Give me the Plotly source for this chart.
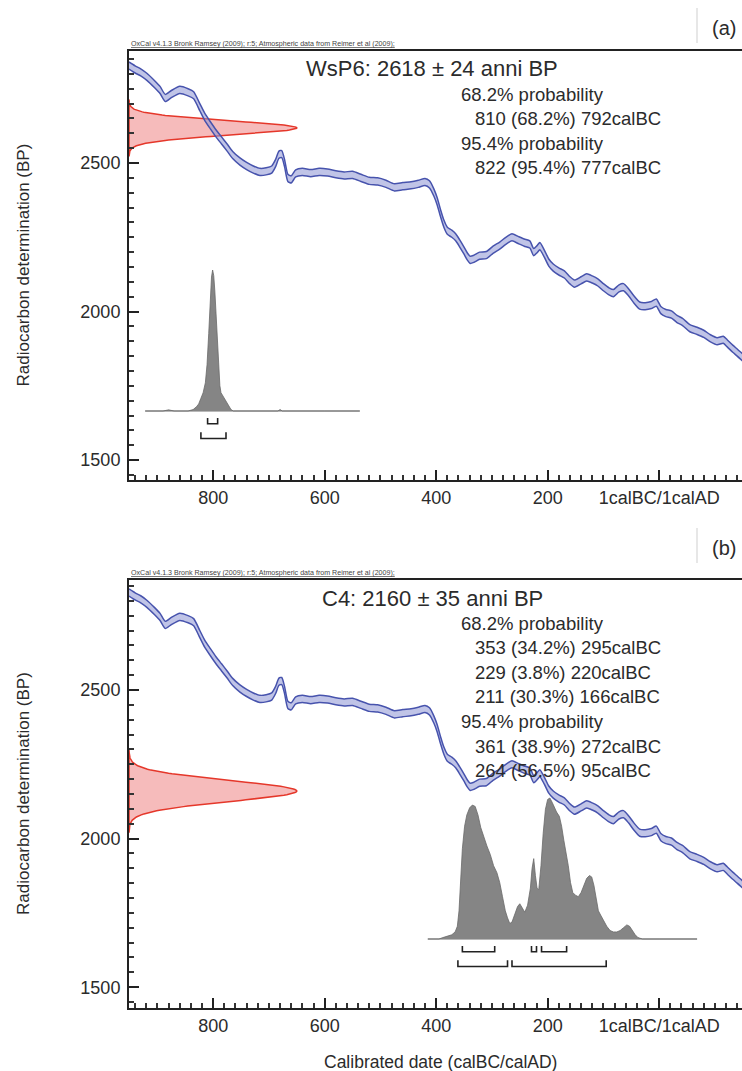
import numpy as np
import plotly.graph_objects as go

W, H = 742, 1071
FONT = "Liberation Sans, Arial, sans-serif"
TXT = "#2b2b2b"

# ---------------- data ----------------
# calibration curve (calendar year BC positive, AD negative) and radiocarbon age BP
cal_year = [951, 940, 930, 919, 905, 895, 886, 875, 860, 845,
            835, 824, 815, 805, 795, 785, 775, 765, 752, 740,
            728, 716, 705, 695, 688, 682, 677, 672, 666, 660,
            652, 640, 625, 610, 595, 580, 565, 550, 535, 520,
            505, 490, 475, 460, 445, 432, 420, 412, 404, 398,
            392, 386, 380, 372, 365, 358, 350, 344, 339, 332,
            322, 310, 298, 286, 275, 264, 252, 242, 232, 225,
            219, 214, 206, 198, 190, 180, 170, 160, 152, 140,
            130, 120, 110, 100, 90, 82, 72, 64, 55, 45,
            35, 25, 14, 5, -3, -12, -22, -32, -42, -55,
            -68, -80, -92, -104, -115, -122, -132, -140, -150]
cal_bp = [2828, 2815, 2805, 2790, 2765, 2745, 2719, 2732, 2746, 2738,
          2728, 2688, 2655, 2627, 2600, 2576, 2552, 2527, 2505, 2490,
          2478, 2470, 2472, 2478, 2500, 2528, 2530, 2500, 2450, 2445,
          2465, 2470, 2466, 2470, 2468, 2462, 2458, 2460, 2450, 2440,
          2438, 2430, 2418, 2422, 2425, 2430, 2436, 2428, 2400, 2370,
          2330, 2295, 2272, 2262, 2250, 2230, 2205, 2185, 2174, 2178,
          2188, 2190, 2208, 2222, 2238, 2250, 2240, 2232, 2226, 2200,
          2210, 2220, 2195, 2165, 2148, 2135, 2125, 2105, 2094, 2105,
          2115, 2108, 2098, 2082, 2068, 2062, 2078, 2082, 2065, 2040,
          2020, 2018, 2022, 2030, 2005, 1995, 1990, 1975, 1965, 1944,
          1935, 1925, 1910, 1900, 1905, 1893, 1875, 1862, 1845]
cal_err = 12

# sample (a)
a_name = "WsP6"
a_bp, a_sd = 2618, 24
a_hist_year = [922, 890, 880, 870, 845, 836, 830, 826, 822, 818,
               814, 811, 808, 805, 803, 801, 799, 797, 795, 793,
               790, 788, 786, 783, 780, 776, 772, 768, 764, 700,
               684, 680, 676, 600, 537]
a_hist_prob = [0, 0, 0.008, 0, 0, 0.01, 0.03, 0.05, 0.09, 0.13,
               0.2, 0.33, 0.55, 0.8, 0.95, 1.0, 0.96, 0.85, 0.7, 0.5,
               0.3, 0.18, 0.13, 0.11, 0.09, 0.06, 0.03, 0.01, 0, 0,
               0, 0.01, 0, 0, 0]
a_range68 = [(810, 792)]
a_range95 = [(822, 777)]
a_text68 = ["810 (68.2%) 792calBC"]
a_text95 = ["822 (95.4%) 777calBC"]

# sample (b)
b_name = "C4"
b_bp, b_sd = 2160, 35
b_hist_year = [415, 395, 388, 380, 372, 366, 362, 359, 356, 353,
               349, 345, 340, 335, 330, 325, 320, 314, 309, 303,
               297, 291, 286, 281, 276, 272, 268, 264, 259, 254,
               250, 246, 241, 236, 231, 228, 225, 222, 219, 216,
               212, 208, 204, 200, 196, 192, 188, 184, 179, 175,
               171, 167, 163, 159, 155, 150, 145, 140, 135, 130,
               125, 121, 117, 113, 109, 105, 100, 94, 88, 82,
               76, 70, 64, 58, 53, 48, 43, 38, 30, 0,
               -40, -68]
b_hist_prob = [0, 0, 0.01, 0.02, 0.03, 0.05, 0.09, 0.2, 0.42, 0.64,
               0.8, 0.88, 0.93, 0.95, 0.94, 0.88, 0.79, 0.71, 0.66, 0.6,
               0.52, 0.47, 0.4, 0.3, 0.2, 0.15, 0.11, 0.12, 0.18, 0.23,
               0.25, 0.22, 0.19, 0.24, 0.36, 0.5, 0.57, 0.45, 0.36, 0.35,
               0.52, 0.75, 0.92, 0.99, 1.0, 0.97, 0.93, 0.9, 0.87, 0.8,
               0.7, 0.62, 0.52, 0.4, 0.33, 0.31, 0.3, 0.33, 0.38, 0.43,
               0.45, 0.44, 0.38, 0.28, 0.2, 0.17, 0.13, 0.09, 0.06, 0.05,
               0.05, 0.06, 0.08, 0.1, 0.09, 0.06, 0.03, 0.01, 0, 0,
               0, 0]
b_range68 = [(353, 295), (229, 220), (211, 166)]
b_range95 = [(361, 272), (264, 95)]
b_text68 = ["353 (34.2%) 295calBC", "229 (3.8%) 220calBC", "211 (30.3%) 166calBC"]
b_text95 = ["361 (38.9%) 272calBC", "264 (56.5%) 95calBC"]

x_tickvals = [800, 600, 400, 200, 0]
x_ticktext = ["800", "600", "400", "200", "1calBC/1calAD"]
y_tickvals = [1500, 2000, 2500]
header = "OxCal v4.1.3 Bronk Ramsey (2009); r:5; Atmospheric data from Reimer et al (2009);"

# ---------------- layout geometry (pixels) ----------------
X_LEFT, X_RIGHT = 951, -148.6
def fx(px): return px / W
def fy(py): return 1 - py / H

panels = [
    dict(top=51, bottom=480, yr=[1433, 2877], base=411, peak=270,
         name=a_name, bp=a_bp, sd=a_sd, hy=a_hist_year, hp=a_hist_prob,
         r68=a_range68, r95=a_range95, t68=a_text68, t95=a_text95, label="(a)", lab_y=28),
    dict(top=580, bottom=1008, yr=[1430, 2870], base=939, peak=798,
         name=b_name, bp=b_bp, sd=b_sd, hy=b_hist_year, hp=b_hist_prob,
         r68=b_range68, r95=b_range95, t68=b_text68, t95=b_text95, label="(b)", lab_y=548),
]

fig = go.Figure()
layout = dict(width=W, height=H, margin=dict(l=0, r=0, t=0, b=0),
              paper_bgcolor="white", plot_bgcolor="rgba(0,0,0,0)", showlegend=False,
              font=dict(family=FONT, color=TXT))
annotations, shapes = [], []
HR = [-0.3, 1.05]

for i, p in enumerate(panels):
    xa = "x" if i == 0 else "x2"
    ya = "y" if i == 0 else "y2"
    ha = "y3" if i == 0 else "y4"
    xkey = "xaxis" if i == 0 else "xaxis2"
    ykey = "yaxis" if i == 0 else "yaxis2"
    hkey = "yaxis3" if i == 0 else "yaxis4"
    layout[xkey] = dict(domain=[fx(129), 1], anchor=ya, range=[X_LEFT, X_RIGHT],
                        tickmode="array", tickvals=x_tickvals, ticktext=x_ticktext,
                        ticks="inside", ticklen=10, tickwidth=2, tickcolor="#222",
                        showline=True, linewidth=2, linecolor="#222", mirror=True,
                        showgrid=False, zeroline=False,
                        tickfont=dict(size=18, color=TXT, family=FONT),
                        minor=dict(tickmode="linear", tick0=0, dtick=20, ticks="inside",
                                   ticklen=5, tickwidth=1.5, tickcolor="#333", showgrid=False))
    layout[ykey] = dict(domain=[fy(p["bottom"]), fy(p["top"])], anchor=xa, range=p["yr"],
                        tickmode="array", tickvals=y_tickvals,
                        ticks="inside", ticklen=10, tickwidth=2, tickcolor="#222",
                        showline=True, linewidth=2, linecolor="#222", mirror=False,
                        showgrid=False, zeroline=False, ticklabelstandoff=3,
                        tickfont=dict(size=18, color=TXT, family=FONT),
                        minor=dict(tickmode="linear", tick0=0, dtick=50, ticks="inside",
                                   ticklen=5, tickwidth=1.5, tickcolor="#333", showgrid=False))
    pxu = p["base"] - p["peak"]
    layout[hkey] = dict(domain=[fy(p["base"] - HR[0] * pxu), fy(p["base"] - HR[1] * pxu)],
                        anchor=xa, range=HR, visible=False, showgrid=False, zeroline=False)

    # red measurement distribution (normal density of the stated date)
    bp = np.linspace(p["bp"] - 4 * p["sd"], p["bp"] + 4 * p["sd"], 161)
    g = np.exp(-0.5 * ((bp - p["bp"]) / p["sd"]) ** 2)
    rx = X_LEFT - 301 * g
    fig.add_trace(go.Scatter(x=list(rx) + [X_LEFT, X_LEFT], y=list(bp) + [bp[-1], bp[0]],
                             xaxis=xa, yaxis=ya, mode="lines", fill="toself",
                             fillcolor="rgba(238,120,120,0.5)",
                             line=dict(color="#e5372a", width=1.5), hoverinfo="skip"))

    # calibration band
    lo = [v - cal_err for v in cal_bp]
    hi = [v + cal_err for v in cal_bp]
    fig.add_trace(go.Scatter(x=cal_year, y=lo, xaxis=xa, yaxis=ya, mode="lines",
                             line=dict(color="#4753ad", width=1.5, shape="spline", smoothing=0.6),
                             hoverinfo="skip"))
    fig.add_trace(go.Scatter(x=cal_year, y=hi, xaxis=xa, yaxis=ya, mode="lines",
                             fill="tonexty", fillcolor="rgba(140,148,212,0.55)",
                             line=dict(color="#4753ad", width=1.5, shape="spline", smoothing=0.6),
                             hoverinfo="skip"))

    # posterior histogram
    fig.add_trace(go.Scatter(x=[p["hy"][0], p["hy"][-1]], y=[0, 0], xaxis=xa, yaxis=ha,
                             mode="lines", line=dict(color="#a0a0a0", width=1.3), hoverinfo="skip"))
    fig.add_trace(go.Scatter(x=p["hy"], y=p["hp"], xaxis=xa, yaxis=ha, mode="lines",
                             fill="tozeroy", fillcolor="#858585",
                             line=dict(color="#6a6a6a", width=0.8), hoverinfo="skip"))

    # range brackets
    for rng, (yh, yt) in ((p["r68"], (-0.09, -0.05)), (p["r95"], (-0.195, -0.15))):
        bx, by = [], []
        for s, e in rng:
            bx += [s, s, e, e, None]
            by += [yt, yh, yh, yt, None]
        fig.add_trace(go.Scatter(x=bx, y=by, xaxis=xa, yaxis=ha, mode="lines",
                                 line=dict(color="#222", width=1.6), hoverinfo="skip"))

    # texts
    top = p["top"]
    annotations.append(dict(x=fx(129), y=fy(top - 7), xref="paper", yref="paper",
                            text="<u>" + header + "</u>", showarrow=False, xanchor="left",
                            yanchor="middle", font=dict(size=7.1, color="#444", family=FONT)))
    annotations.append(dict(x=fx(432), y=fy(top + 18), xref="paper", yref="paper",
                            text=f"{p['name']}: {p['bp']} ± {p['sd']} anni BP", showarrow=False,
                            xanchor="center", yanchor="middle", font=dict(size=22, color=TXT, family=FONT)))
    lines = [("68.2% probability", 459)] + [(t, 473) for t in p["t68"]] + \
            [("95.4% probability", 459)] + [(t, 473) for t in p["t95"]]
    for k, (t, xl) in enumerate(lines):
        annotations.append(dict(x=fx(xl), y=fy(top + 43 + 24.6 * k), xref="paper", yref="paper",
                                text=t, showarrow=False, xanchor="left", yanchor="middle",
                                font=dict(size=18.5, color=TXT, family=FONT)))
    annotations.append(dict(x=fx(23), y=fy((p["top"] + p["bottom"]) / 2), xref="paper", yref="paper",
                            text="Radiocarbon determination (BP)", textangle=-90, showarrow=False,
                            xanchor="center", yanchor="middle", font=dict(size=17, color=TXT, family=FONT)))
    annotations.append(dict(x=fx(738), y=fy(p["lab_y"]), xref="paper", yref="paper",
                            text=p["label"], showarrow=False, xanchor="right", yanchor="middle",
                            font=dict(size=20, color=TXT, family=FONT)))
    shapes.append(dict(type="line", xref="paper", yref="paper",
                       x0=fx(697), x1=fx(697), y0=fy(p["lab_y"] - 20), y1=fy(p["lab_y"] + 15),
                       line=dict(color="#cfcfcf", width=1)))

annotations.append(dict(x=fx(440), y=fy(1062), xref="paper", yref="paper",
                        text="Calibrated date (calBC/calAD)", showarrow=False,
                        xanchor="center", yanchor="middle", font=dict(size=17.5, color=TXT, family=FONT)))

layout["annotations"] = annotations
layout["shapes"] = shapes
fig.update_layout(**layout)

fig.write_html("out.html", config={"displayModeBar": False},
               post_script="document.body.style.margin='0';document.body.style.overflow='hidden';")
